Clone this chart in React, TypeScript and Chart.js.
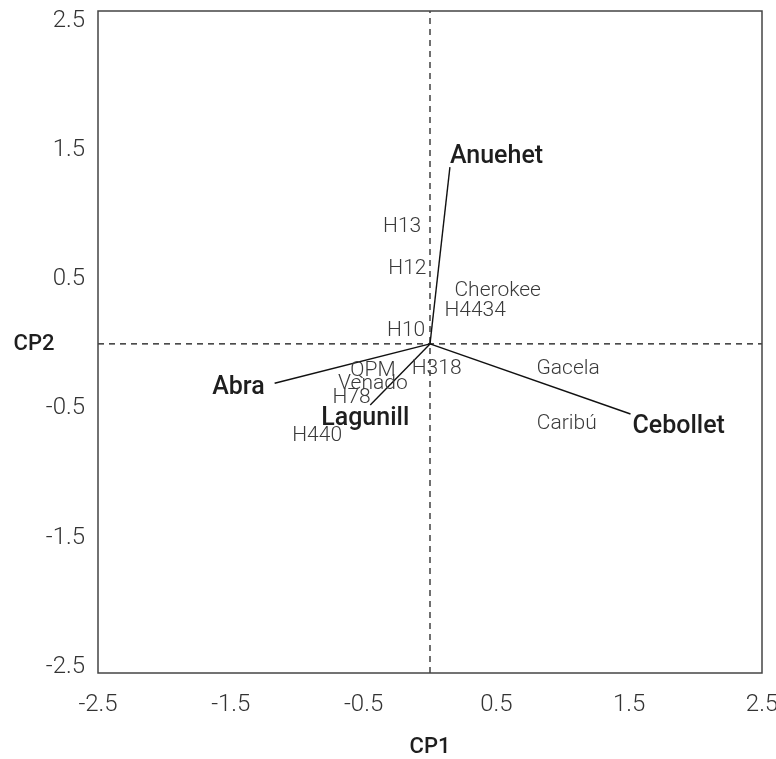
import React, { useEffect, useRef } from "react";
import { Chart, registerables } from "chart.js";

Chart.register(...registerables);

// Axis ranges & tick labels
const X_MIN = -2.5;
const X_MAX = 2.5;
const Y_MIN = -2.55;
const Y_MAX = 2.58;
const X_TICKS = [-2.5, -1.5, -0.5, 0.5, 1.5, 2.5];
const Y_TICKS = [-2.5, -1.5, -0.5, 0.5, 1.5, 2.5];
const X_TITLE = "CP1";
const Y_TITLE = "CP2";

// Variable vectors (loadings)
const VARIABLES = ["Anuehet", "Abra", "Lagunill", "Cebollet"];
const VAR_X = [0.15, -1.17, -0.45, 1.51];
const VAR_Y = [1.37, -0.305, -0.474, -0.543];

// Genotype scores
const GENOTYPES = ["H13", "H12", "Cherokee", "H4434", "H10", "QPM", "Venado", "H78", "H318", "H440", "Gacela", "Caribú"];
const GEN_X = [-0.21, -0.17, 0.51, 0.34, -0.18, -0.43, -0.43, -0.59, 0.05, -0.85, 1.04, 1.03];
const GEN_Y = [0.922, 0.596, 0.426, 0.271, 0.116, -0.187, -0.295, -0.403, -0.178, -0.698, -0.178, -0.605];

// label placement style for vector labels (alignment + pixel offsets)
const VAR_LABEL_STYLE: Record<string, { align: CanvasTextAlign; dx: number; dy: number }> = {
  Anuehet: { align: "left", dx: 0, dy: -13 },
  Abra: { align: "right", dx: -10, dy: 1.5 },
  Lagunill: { align: "center", dx: -5, dy: 11 },
  Cebollet: { align: "left", dx: 2, dy: 10 },
};

const FONT = "Roboto, 'Noto Sans', sans-serif";

export default function App() {
  const ref = useRef<HTMLCanvasElement | null>(null);

  useEffect(() => {
    if (!ref.current) return;

    const labelPlugin = {
      id: "biplotLabels",
      afterDatasetsDraw(chart: any) {
        const ctx = chart.ctx;
        const area = chart.chartArea;
        ctx.save();
        // box
        ctx.strokeStyle = "#444";
        ctx.lineWidth = 1.5;
        ctx.strokeRect(area.left, area.top, area.right - area.left, area.bottom - area.top);

        // genotype labels
        const gSize = 21;
        ctx.font = `300 ${gSize}px ${FONT}`;
        ctx.fillStyle = "#3a3a3a";
        ctx.textAlign = "center";
        ctx.textBaseline = "alphabetic";
        const gMeta = chart.getDatasetMeta(0);
        gMeta.data.forEach((pt: any, i: number) => {
          ctx.fillText(GENOTYPES[i], pt.x, pt.y + gSize * 0.711 / 2);
        });

        // variable labels
        const vSize = 25;
        ctx.font = `500 ${vSize}px ${FONT}`;
        ctx.fillStyle = "#1e1e1e";
        VARIABLES.forEach((name, i) => {
          const meta = chart.getDatasetMeta(3 + i);
          const end = meta.data[1];
          const st = VAR_LABEL_STYLE[name];
          ctx.textAlign = st.align;
          ctx.fillText(name, end.x + st.dx, end.y + st.dy + vSize * 0.711 / 2);
        });

        // axis titles
        const tSize = 22;
        ctx.font = `500 ${tSize}px ${FONT}`;
        ctx.fillStyle = "#1e1e1e";
        ctx.textAlign = "center";
        ctx.fillText(X_TITLE, (area.left + area.right) / 2, area.bottom + 72 + tSize * 0.711 / 2);
        ctx.fillText(Y_TITLE, 34, (area.top + area.bottom) / 2 + tSize * 0.711 / 2);
        ctx.restore();
      },
    };

    const vectorDatasets = VARIABLES.map((name, i) => ({
      type: "line" as const,
      label: name,
      data: [
        { x: 0, y: 0 },
        { x: VAR_X[i], y: VAR_Y[i] },
      ],
      borderColor: "#111",
      borderWidth: 1.4,
      pointRadius: 0,
      fill: false,
    }));

    const chart = new Chart(ref.current, {
      type: "scatter",
      data: {
        datasets: [
          {
            label: "Genotipos",
            data: GENOTYPES.map((_, i) => ({ x: GEN_X[i], y: GEN_Y[i] })),
            pointRadius: 0,
            pointHoverRadius: 0,
            backgroundColor: "transparent",
            borderColor: "transparent",
          },
          {
            type: "line",
            label: "h0",
            data: [
              { x: X_MIN, y: 0 },
              { x: X_MAX, y: 0 },
            ],
            borderColor: "#111",
            borderWidth: 1.2,
            borderDash: [6, 5],
            pointRadius: 0,
            fill: false,
          },
          {
            type: "line",
            label: "v0",
            data: [
              { x: 0, y: Y_MIN },
              { x: 0, y: Y_MAX },
            ],
            borderColor: "#111",
            borderWidth: 1.2,
            borderDash: [6, 5],
            pointRadius: 0,
            fill: false,
          },
          ...vectorDatasets,
        ] as any,
      },
      options: {
        animation: false,
        responsive: false,
        events: [],
        layout: { padding: { top: 11, right: 14, left: 0, bottom: 0 } },
        plugins: {
          legend: { display: false },
          tooltip: { enabled: false },
        },
        scales: {
          x: {
            type: "linear",
            min: X_MIN,
            max: X_MAX,
            grid: { display: false, drawTicks: false },
            border: { display: false },
            afterBuildTicks: (scale: any) => {
              scale.ticks = X_TICKS.map((v) => ({ value: v }));
            },
            afterFit: (scale: any) => {
              scale.height = 86;
              scale.paddingLeft = 0;
              scale.paddingRight = 0;
            },
            ticks: {
              autoSkip: false,
              maxRotation: 0,
              padding: 18,
              color: "#333",
              font: { family: FONT, size: 24, weight: "300" as any },
              callback: (v: any) => String(v),
            },
          },
          y: {
            type: "linear",
            min: Y_MIN,
            max: Y_MAX,
            grid: { display: false, drawTicks: false },
            border: { display: false },
            afterBuildTicks: (scale: any) => {
              scale.ticks = Y_TICKS.map((v) => ({ value: v }));
            },
            afterFit: (scale: any) => {
              scale.width = 98;
              scale.paddingTop = 0;
              scale.paddingBottom = 0;
            },
            ticks: {
              autoSkip: false,
              padding: 13,
              color: "#333",
              font: { family: FONT, size: 24, weight: "300" as any },
              callback: (v: any) => String(v),
            },
          },
        },
      },
      plugins: [labelPlugin],
    });

    return () => chart.destroy();
  }, []);

  return (
    <div style={{ position: "absolute", left: 0, top: 0, width: 776, height: 759, background: "#fff" }}>
      <canvas ref={ref} width={776} height={759} style={{ display: "block" }} />
    </div>
  );
}
